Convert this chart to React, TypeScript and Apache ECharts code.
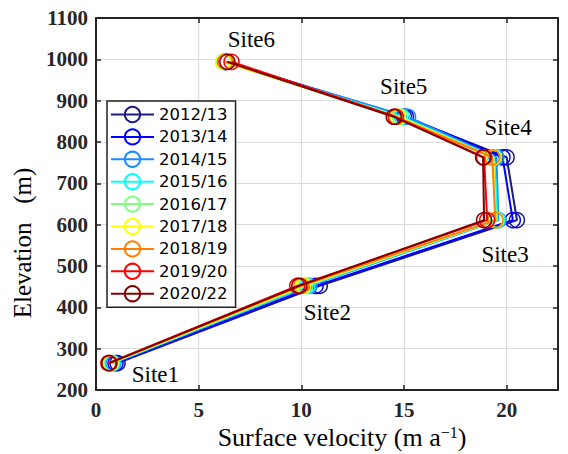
import React, { useEffect, useRef } from 'react';
import * as echarts from 'echarts';

const years = ['2012/13', '2013/14', '2014/15', '2015/16', '2016/17', '2017/18', '2018/19', '2019/20', '2020/22'];
const colors = ['#1a1a80', '#0000ff', '#1a8cff', '#00ffff', '#80ff80', '#ffff00', '#ff8000', '#ff0000', '#800000'];
const siteNames = ['Site1', 'Site2', 'Site3', 'Site4', 'Site5', 'Site6'];
const elevations = [265, 452, 611, 763, 861, 994];
// velocity per year at Site1..Site6
const v2012 = [1.05, 10.9, 20.5, 20.0, 15.0, 6.3];
const v2013 = [0.95, 10.7, 20.3, 19.8, 15.1, 6.3];
const v2014 = [0.85, 10.4, 19.6, 19.5, 15.2, 6.25];
const v2015 = [0.8, 10.3, 19.55, 19.4, 14.9, 6.2];
const v2016 = [0.75, 10.2, 19.5, 19.3, 14.8, 6.2];
const v2017 = [0.7, 10.1, 19.45, 19.35, 14.7, 6.2];
const v2018 = [0.65, 10.0, 19.45, 19.3, 14.6, 6.3];
const v2019 = [0.6, 9.8, 19.05, 18.9, 14.6, 6.6];
const v2020 = [0.65, 9.9, 18.9, 18.85, 14.5, 6.4];
const velocities = [v2012, v2013, v2014, v2015, v2016, v2017, v2018, v2019, v2020];
const xTicks = [0, 5, 10, 15, 20];

const labelOffsets = [[46, 11], [28, 27], [21, 34], [25, -30], [10, -30], [24, -22]];

const serif = '"Times New Roman", "Liberation Serif", serif';

export default function App() {
  const ref = useRef<HTMLDivElement>(null);
  useEffect(() => {
    if (!ref.current) return;
    const chart = echarts.init(ref.current, undefined, { renderer: 'svg' });
    const lineSeries = years.map((y, i) => ({
      name: y,
      type: 'line',
      xAxisIndex: 0,
      yAxisIndex: 0,
      data: velocities[i].map((v, k) => [v, elevations[k]]),
      symbol: 'circle',
      symbolSize: 15,
      showSymbol: true,
      lineStyle: { color: colors[i], width: 2 },
      itemStyle: { color: 'transparent', borderColor: colors[i], borderWidth: 1.5 },
      emphasis: { disabled: true },
      z: 2 + i,
    }));
    const anchor = velocities[velocities.length - 1];
    const siteSeries = {
      name: 'sites',
      type: 'scatter',
      silent: true,
      symbolSize: 0,
      itemStyle: { color: '#000', opacity: 1 },
      data: siteNames.map((n, k) => ({
        value: [anchor[k], elevations[k]],
        name: n,
        label: { offset: labelOffsets[k] },
      })),
      label: {
        show: true,
        position: 'inside',
        formatter: (p: any) => p.name,
        fontFamily: serif,
        fontSize: 23,
        color: '#000',
        textBorderWidth: 0,
      },
      z: 20,
    };
    chart.setOption({
      animation: false,
      backgroundColor: '#fff',
      textStyle: { fontFamily: serif },
      grid: { left: 96, right: 10, top: 18, bottom: 64, containLabel: false, outerBoundsMode: 'none' },
      legend: {
        data: years,
        orient: 'vertical',
        left: 107,
        top: 101,
        padding: [4, 8, 4, 3],
        itemWidth: 43,
        itemHeight: 19,
        itemGap: 3.4,
        backgroundColor: '#fff',
        borderColor: '#222',
        borderWidth: 1.5,
        borderRadius: 0,
        textStyle: { fontFamily: 'DejaVu Sans', fontSize: 16.5, color: '#000', lineHeight: 19 },
        selectedMode: false,
      },
      xAxis: [
        {
          type: 'value',
          min: 0,
          max: 22.5,
          interval: 5,
          position: 'bottom',
          axisLine: { show: true, onZero: false, lineStyle: { color: '#262626', width: 2 } },
          axisTick: { show: true, inside: true, length: 5, lineStyle: { color: '#262626', width: 1.5 } },
          axisLabel: {
            fontFamily: serif, fontSize: 21, fontWeight: 'bold', color: '#262626', margin: 9,
            formatter: (v: number) => (xTicks.includes(v) ? String(v) : ''),
          },
          splitLine: { show: true, lineStyle: { color: '#dcdcdc', width: 1.2 } },
          name: 'Surface velocity (m a{sup|−1})',
          nameLocation: 'middle',
          nameGap: 33,
          nameTextStyle: {
            fontFamily: serif, fontSize: 26, color: '#000', padding: [0, 0, 0, 30],
            rich: { sup: { fontFamily: serif, fontSize: 16, verticalAlign: 'top', color: '#000', padding: [0, 0, 10, 0] } },
          },
        },
        {
          type: 'value',
          min: 0,
          max: 22.5,
          interval: 5,
          position: 'top',
          axisLine: { show: true, onZero: false, lineStyle: { color: '#262626', width: 2 } },
          axisTick: { show: true, inside: true, length: 5, lineStyle: { color: '#262626', width: 1.5 } },
          axisLabel: { show: false },
          splitLine: { show: false },
        },
      ],
      yAxis: [
        {
          type: 'value',
          min: 200,
          max: 1100,
          interval: 100,
          position: 'left',
          axisLine: { show: true, onZero: false, lineStyle: { color: '#262626', width: 2 } },
          axisTick: { show: true, inside: true, length: 5, lineStyle: { color: '#262626', width: 1.5 } },
          axisLabel: {
            fontFamily: serif, fontSize: 21, fontWeight: 'bold', color: '#262626', margin: 8,
            formatter: (v: number) => String(v),
          },
          splitLine: { show: true, lineStyle: { color: '#dcdcdc', width: 1.2 } },
        },
        {
          type: 'value',
          min: 200,
          max: 1100,
          interval: 100,
          position: 'right',
          axisLine: { show: true, onZero: false, lineStyle: { color: '#262626', width: 2 } },
          axisTick: { show: true, inside: true, length: 5, lineStyle: { color: '#262626', width: 1.5 } },
          axisLabel: { show: false },
          splitLine: { show: false },
        },
      ],
      graphic: [
        {
          type: 'text',
          x: 22,
          y: 243,
          rotation: Math.PI / 2,
          style: {
            text: 'Elevation\u00a0\u00a0\u00a0(m)',
            fontFamily: serif,
            fontSize: 25,
            fill: '#000',
            textAlign: 'center',
            textVerticalAlign: 'middle',
          },
        },
      ],
      series: [...lineSeries, siteSeries],
    });
    return () => chart.dispose();
  }, []);
  return <div ref={ref} style={{ width: 568, height: 454, position: 'absolute', left: 0, top: 0 }} />;
}
